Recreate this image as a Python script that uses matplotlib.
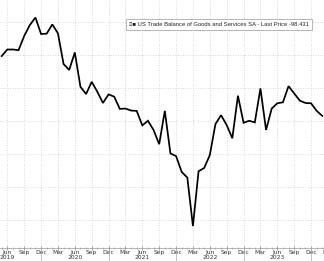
import numpy as np
import matplotlib.pyplot as plt
from matplotlib.transforms import blended_transform_factory

# monthly values, May 2019 .. Feb 2024 (index 0 = Jun 2019)
months_from_jun19 = list(range(-1, 57))
balance = [
    -80.3, -78.3, -78.3, -78.5, -74.2, -70.9, -68.6, -73.6, -73.5, -70.7,
    -73.4, -82.7, -84.5, -79.2, -89.6, -91.8, -88.1, -91.1, -94.5, -91.9,
    -92.6, -96.3, -96.2, -96.8, -96.9, -101.3, -99.9, -102.7, -107.0, -96.9,
    -109.8, -110.6, -115.4, -117.1, -131.8, -115.2, -114.2, -110.3, -100.9, -98.2,
    -101.2, -105.2, -92.3, -100.5, -99.9, -100.4, -90.1, -102.7, -96.2, -94.6,
    -94.3, -89.4, -91.6, -93.8, -94.5, -94.6, -96.9, -98.431,
]
month_names = ['Jun', 'Sep', 'Dec', 'Mar']
years = ['2019', '2020', '2021', '2022', '2023', '2024']
ygrid = [-70, -80, -90, -100, -110, -120, -130]
legend_label = 'US Trade Balance of Goods and Services SA - Last Price -98.431'

fig = plt.figure(figsize=(3.24, 2.61), dpi=100)
ax = fig.add_axes([0, 13.5 / 261, 1, 247.5 / 261])

ax.plot(months_from_jun19, balance, color='black', lw=1.25, solid_joinstyle='miter', zorder=3)

ax.set_xlim(-1.3, 56.3)
ax.set_ylim(-138.3, -63.3)

# quarterly ticks, year under each June
ticks = list(range(0, 58, 3))
labels = []
for i, t in enumerate(ticks):
    name = month_names[i % 4]
    if name == 'Jun':
        name = name + '\n' + years[t // 12]
    labels.append(name)
ax.set_xticks(ticks[:-1])
ax.set_xticklabels(labels[:-1], fontsize=4.3, color='#333333', linespacing=1.05)
ax.set_xticks(range(-1, 57), minor=True)
ax.tick_params(axis='x', which='major', length=2.5, width=0.5, color='#888888',
               direction='inout', pad=0.5)
ax.tick_params(axis='x', which='minor', length=1.5, width=0.4, color='#888888',
               direction='inout')
ax.set_yticks(ygrid)
ax.tick_params(axis='y', left=False, labelleft=False)

# the Mar 2024 label falls off the right edge
ax.text(57, -0.012, 'Mar', transform=blended_transform_factory(ax.transData, ax.transAxes),
        fontsize=4.3, color='#333333', ha='center', va='top', clip_on=False)

ax.grid(True, axis='both', which='major', color='#cccccc', linestyle=(0, (1, 2)), lw=0.6)

for s in ['top', 'left', 'right']:
    ax.spines[s].set_visible(False)
ax.spines['bottom'].set_color('#999999')
ax.spines['bottom'].set_linewidth(0.5)

# year separators below the axis
trans = blended_transform_factory(ax.transData, ax.transAxes)
for k in range(6, 57, 12):
    ax.plot([k, k], [0, -0.06], transform=trans, color='#aaaaaa', lw=0.5, clip_on=False)

# legend box
ax.text(0.398, 0.901, '\u2261\u25a0 ' + legend_label, transform=ax.transAxes,
        fontsize=4.2, family=['Liberation Sans', 'DejaVu Sans'], color='#222222',
        va='center', ha='left', zorder=5,
        bbox=dict(boxstyle='square,pad=0.5', fc='white', ec='#aaaaaa', lw=0.6))

fig.savefig('out.png', dpi=100)
